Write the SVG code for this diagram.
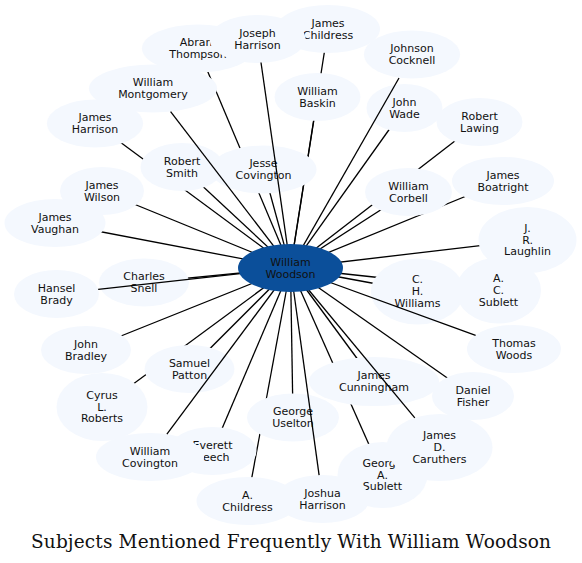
<svg xmlns="http://www.w3.org/2000/svg" width="582" height="563" viewBox="0 0 582 563">
<style>
.n ellipse{fill:#f4f8fe;stroke:none}
.n text,.c text{font-family:"DejaVu Sans","Liberation Sans",sans-serif;font-size:11px;fill:#111;text-anchor:middle}
.c ellipse{fill:#0b4f9a;stroke:none}
.e line{stroke:#000;stroke-width:1.3;fill:none}
.title{font-family:"DejaVu Serif","Liberation Serif",serif;font-size:18.5px;fill:#111;text-anchor:middle}
</style>
<rect width="582" height="563" fill="#fff"/>
<g id="connectors-under" class="e">
<line x1="290.5" y1="268" x2="198" y2="48.5"/>
<line x1="290.5" y1="268" x2="328" y2="29"/>
<line x1="290.5" y1="268" x2="317.5" y2="97"/>
<line x1="290.5" y1="268" x2="404.5" y2="108"/>
<line x1="290.5" y1="268" x2="479.5" y2="122"/>
<line x1="290.5" y1="268" x2="408.5" y2="192"/>
<line x1="290.5" y1="268" x2="503" y2="181"/>
<line x1="290.5" y1="268" x2="527.5" y2="240"/>
<line x1="290.5" y1="268" x2="417.5" y2="291.5"/>
<line x1="290.5" y1="268" x2="498.5" y2="290.5"/>
<line x1="290.5" y1="268" x2="473" y2="396"/>
<line x1="290.5" y1="268" x2="374" y2="381.5"/>
<line x1="290.5" y1="268" x2="382.5" y2="475"/>
<line x1="290.5" y1="268" x2="293" y2="417.5"/>
<line x1="290.5" y1="268" x2="247.5" y2="501"/>
<line x1="290.5" y1="268" x2="212.5" y2="451"/>
<line x1="290.5" y1="268" x2="102" y2="407"/>
<line x1="290.5" y1="268" x2="189.5" y2="369"/>
<line x1="290.5" y1="268" x2="86" y2="350"/>
<line x1="290.5" y1="268" x2="144" y2="282.5"/>
<line x1="290.5" y1="268" x2="55" y2="223"/>
<line x1="290.5" y1="268" x2="102" y2="191"/>
<line x1="290.5" y1="268" x2="95" y2="123.5"/>
<line x1="290.5" y1="268" x2="182" y2="167"/>
<line x1="290.5" y1="268" x2="263.5" y2="169.5"/>
</g>
<g id="node-abram-thompson" class="n"><ellipse cx="198" cy="48.5" rx="56" ry="24"/><text x="198"><tspan x="198" y="46.3">Abram</tspan><tspan x="198" y="58">Thompson</tspan></text></g>
<g id="node-james-childress" class="n"><ellipse cx="328" cy="29" rx="52" ry="24"/><text x="328"><tspan x="328" y="26.8">James</tspan><tspan x="328" y="38.5">Childress</tspan></text></g>
<g id="node-joseph-harrison" class="n"><ellipse cx="257.5" cy="39" rx="48" ry="24"/><text x="257.5"><tspan x="257.5" y="36.8">Joseph</tspan><tspan x="257.5" y="48.5">Harrison</tspan></text></g>
<g id="node-william-montgomery" class="n"><ellipse cx="153" cy="88.5" rx="64" ry="24"/><text x="153"><tspan x="153" y="86.3">William</tspan><tspan x="153" y="98">Montgomery</tspan></text></g>
<g id="node-james-harrison" class="n"><ellipse cx="95" cy="123.5" rx="48" ry="24"/><text x="95"><tspan x="95" y="121.3">James</tspan><tspan x="95" y="133">Harrison</tspan></text></g>
<g id="node-robert-smith" class="n"><ellipse cx="182" cy="167" rx="41.5" ry="24"/><text x="182"><tspan x="182" y="164.8">Robert</tspan><tspan x="182" y="176.5">Smith</tspan></text></g>
<g id="node-jesse-covington" class="n"><ellipse cx="263.5" cy="169.5" rx="53" ry="24"/><text x="263.5"><tspan x="263.5" y="167.3">Jesse</tspan><tspan x="263.5" y="179">Covington</tspan></text></g>
<g id="node-william-baskin" class="n"><ellipse cx="317.5" cy="97" rx="43" ry="24"/><text x="317.5"><tspan x="317.5" y="94.8">William</tspan><tspan x="317.5" y="106.5">Baskin</tspan></text></g>
<g id="node-johnson-cocknell" class="n"><ellipse cx="412" cy="54.5" rx="48" ry="24"/><text x="412"><tspan x="412" y="52.3">Johnson</tspan><tspan x="412" y="64">Cocknell</tspan></text></g>
<g id="node-john-wade" class="n"><ellipse cx="404.5" cy="108" rx="38" ry="24"/><text x="404.5"><tspan x="404.5" y="105.8">John</tspan><tspan x="404.5" y="117.5">Wade</tspan></text></g>
<g id="node-robert-lawing" class="n"><ellipse cx="479.5" cy="122" rx="43" ry="24"/><text x="479.5"><tspan x="479.5" y="119.8">Robert</tspan><tspan x="479.5" y="131.5">Lawing</tspan></text></g>
<g id="node-william-corbell" class="n"><ellipse cx="408.5" cy="192" rx="43.5" ry="24"/><text x="408.5"><tspan x="408.5" y="189.8">William</tspan><tspan x="408.5" y="201.5">Corbell</tspan></text></g>
<g id="node-james-boatright" class="n"><ellipse cx="503" cy="181" rx="51" ry="24"/><text x="503"><tspan x="503" y="178.8">James</tspan><tspan x="503" y="190.5">Boatright</tspan></text></g>
<g id="node-j-r-laughlin" class="n"><ellipse cx="527.5" cy="240" rx="49" ry="33"/><text x="527.5"><tspan x="527.5" y="231.9">J.</tspan><tspan x="527.5" y="243.6">R.</tspan><tspan x="527.5" y="255.3">Laughlin</tspan></text></g>
<g id="node-c-h-williams" class="n"><ellipse cx="417.5" cy="291.5" rx="46.5" ry="33"/><text x="417.5"><tspan x="417.5" y="283.4">C.</tspan><tspan x="417.5" y="295.1">H.</tspan><tspan x="417.5" y="306.8">Williams</tspan></text></g>
<g id="node-a-c-sublett" class="n"><ellipse cx="498.5" cy="290.5" rx="42.5" ry="33"/><text x="498.5"><tspan x="498.5" y="282.4">A.</tspan><tspan x="498.5" y="294.1">C.</tspan><tspan x="498.5" y="305.8">Sublett</tspan></text></g>
<g id="node-thomas-woods" class="n"><ellipse cx="514" cy="349" rx="47" ry="24"/><text x="514"><tspan x="514" y="346.8">Thomas</tspan><tspan x="514" y="358.5">Woods</tspan></text></g>
<g id="node-daniel-fisher" class="n"><ellipse cx="473" cy="396" rx="41" ry="24"/><text x="473"><tspan x="473" y="393.8">Daniel</tspan><tspan x="473" y="405.5">Fisher</tspan></text></g>
<g id="node-james-cunningham" class="n"><ellipse cx="374" cy="381.5" rx="65" ry="24.5"/><text x="374"><tspan x="374" y="379.3">James</tspan><tspan x="374" y="391">Cunningham</tspan></text></g>
<g id="node-george-a-sublett" class="n"><ellipse cx="382.5" cy="475" rx="45" ry="33"/><text x="382.5"><tspan x="382.5" y="466.9">George</tspan><tspan x="382.5" y="478.6">A.</tspan><tspan x="382.5" y="490.3">Sublett</tspan></text></g>
<g id="node-james-d-caruthers" class="n"><ellipse cx="439.5" cy="447.5" rx="53" ry="33.5"/><text x="439.5"><tspan x="439.5" y="439.4">James</tspan><tspan x="439.5" y="451.1">D.</tspan><tspan x="439.5" y="462.8">Caruthers</tspan></text></g>
<g id="node-joshua-harrison" class="n"><ellipse cx="322.5" cy="499" rx="47" ry="24"/><text x="322.5"><tspan x="322.5" y="496.8">Joshua</tspan><tspan x="322.5" y="508.5">Harrison</tspan></text></g>
<g id="node-george-uselton" class="n"><ellipse cx="293" cy="417.5" rx="46" ry="24"/><text x="293"><tspan x="293" y="415.3">George</tspan><tspan x="293" y="427">Uselton</tspan></text></g>
<g id="node-a-childress" class="n"><ellipse cx="247.5" cy="501" rx="51" ry="24"/><text x="247.5"><tspan x="247.5" y="498.8">A.</tspan><tspan x="247.5" y="510.5">Childress</tspan></text></g>
<g id="node-everett-beech" class="n"><ellipse cx="212.5" cy="451" rx="44" ry="24"/><text x="212.5"><tspan x="212.5" y="448.8">Everett</tspan><tspan x="212.5" y="460.5">Beech</tspan></text></g>
<g id="node-william-covington" class="n"><ellipse cx="150" cy="457" rx="54" ry="24"/><text x="150"><tspan x="150" y="454.8">William</tspan><tspan x="150" y="466.5">Covington</tspan></text></g>
<g id="node-cyrus-l-roberts" class="n"><ellipse cx="102" cy="407" rx="45.5" ry="34"/><text x="102"><tspan x="102" y="398.9">Cyrus</tspan><tspan x="102" y="410.6">L.</tspan><tspan x="102" y="422.3">Roberts</tspan></text></g>
<g id="node-samuel-patton" class="n"><ellipse cx="189.5" cy="369" rx="45" ry="24"/><text x="189.5"><tspan x="189.5" y="366.8">Samuel</tspan><tspan x="189.5" y="378.5">Patton</tspan></text></g>
<g id="node-john-bradley" class="n"><ellipse cx="86" cy="350" rx="45" ry="24"/><text x="86"><tspan x="86" y="347.8">John</tspan><tspan x="86" y="359.5">Bradley</tspan></text></g>
<g id="node-hansel-brady" class="n"><ellipse cx="56.5" cy="294" rx="42.5" ry="24"/><text x="56.5"><tspan x="56.5" y="291.8">Hansel</tspan><tspan x="56.5" y="303.5">Brady</tspan></text></g>
<g id="node-charles-snell" class="n"><ellipse cx="144" cy="282.5" rx="45" ry="24"/><text x="144"><tspan x="144" y="280.3">Charles</tspan><tspan x="144" y="292">Snell</tspan></text></g>
<g id="node-james-vaughan" class="n"><ellipse cx="55" cy="223" rx="50.5" ry="24"/><text x="55"><tspan x="55" y="220.8">James</tspan><tspan x="55" y="232.5">Vaughan</tspan></text></g>
<g id="node-james-wilson" class="n"><ellipse cx="102" cy="191" rx="42" ry="24"/><text x="102"><tspan x="102" y="188.8">James</tspan><tspan x="102" y="200.5">Wilson</tspan></text></g>
<g id="connectors-over" class="e">
<line x1="290.5" y1="268" x2="261" y2="62.5"/>
<line x1="290.5" y1="268" x2="399" y2="78"/>
<line x1="290.5" y1="268" x2="475.6" y2="335.3"/>
<line x1="290.5" y1="268" x2="414.8" y2="417.9"/>
<line x1="290.5" y1="268" x2="319.1" y2="475.1"/>
<line x1="290.5" y1="268" x2="166.9" y2="434.2"/>
<line x1="290.5" y1="268" x2="98.2" y2="289.4"/>
<line x1="290.5" y1="268" x2="170.6" y2="111.6"/>
</g>
<g id="node-william-woodson" class="c"><ellipse cx="290.5" cy="268" rx="52.5" ry="24"/><text x="290.5"><tspan x="290.5" y="265.8">William</tspan><tspan x="290.5" y="277.5">Woodson</tspan></text></g>
<text class="title" x="291" y="548" textLength="520" lengthAdjust="spacing">Subjects Mentioned Frequently With William Woodson</text>
</svg>
